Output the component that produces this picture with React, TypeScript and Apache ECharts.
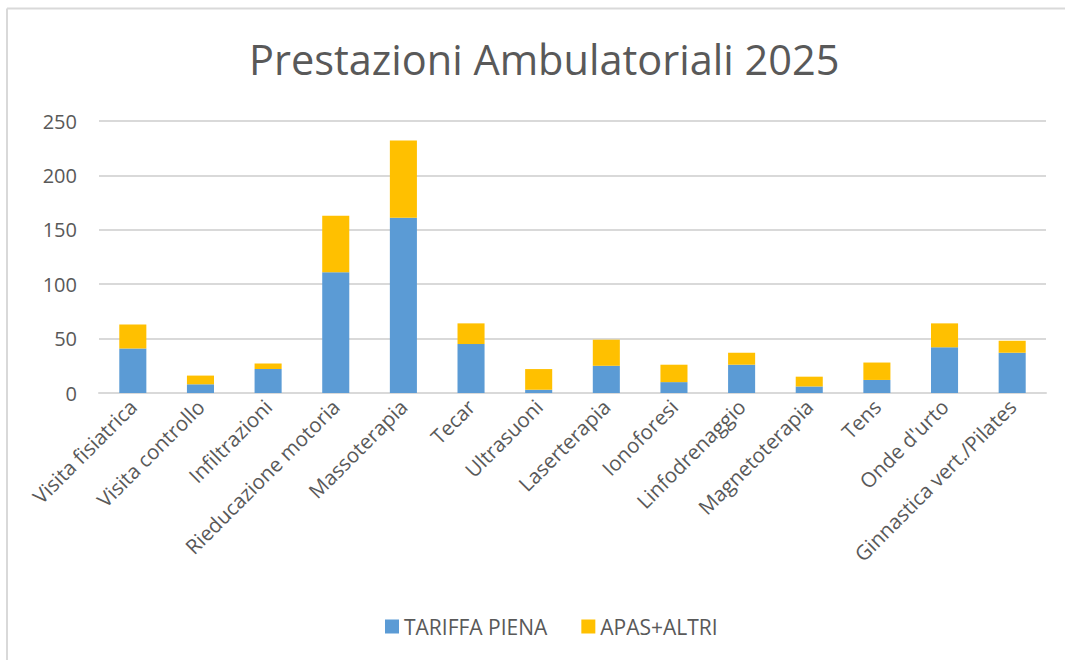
import React, { useEffect, useRef } from "react";
import * as echarts from "echarts";

const categories = [
  "Visita fisiatrica",
  "Visita controllo",
  "Infiltrazioni",
  "Rieducazione motoria",
  "Massoterapia",
  "Tecar",
  "Ultrasuoni",
  "Laserterapia",
  "Ionoforesi",
  "Linfodrenaggio",
  "Magnetoterapia",
  "Tens",
  "Onde d'urto",
  "Ginnastica vert./Pilates",
];
const tariffaPiena = [41, 8, 22, 111, 161, 45, 3, 25, 10, 26, 6, 12, 42, 37];
const apasAltri = [22, 8, 5, 52, 71, 19, 19, 24, 16, 11, 9, 16, 22, 11];
const yTicks = [0, 50, 100, 150, 200, 250];

const FONT = "'Open Sans', sans-serif";
const TEXT = "#595959";

export default function App() {
  const ref = useRef<HTMLDivElement>(null);
  useEffect(() => {
    if (!ref.current) return;
    const chart = echarts.init(ref.current, null, { renderer: "svg" });
    chart.setOption({
      animation: false,
      backgroundColor: "#ffffff",
      textStyle: { fontFamily: FONT },
      title: {
        text: "Prestazioni Ambulatoriali 2025",
        left: 244,
        top: 33,
        textStyle: { fontFamily: FONT, fontSize: 41.5, fontWeight: "normal", color: TEXT },
      },
      graphic: [
        { type: "line", shape: { x1: 7, y1: 8.5, x2: 1065, y2: 8.5 }, style: { stroke: "#d9d9d9", lineWidth: 2 } },
        { type: "line", shape: { x1: 7, y1: 8.5, x2: 7, y2: 660 }, style: { stroke: "#d9d9d9", lineWidth: 2 } },
      ],
      legend: {
        bottom: 18,
        left: 380,
        itemWidth: 14,
        itemHeight: 14,
        itemGap: 34,
        icon: "rect",
        textStyle: { fontFamily: FONT, fontSize: 21, color: TEXT },
        data: ["TARIFFA PIENA", "APAS+ALTRI"],
      },
      grid: { left: 99, right: 19, top: 121, bottom: 267, containLabel: false },
      xAxis: {
        type: "category",
        data: categories,
        axisTick: { show: false },
        axisLine: { lineStyle: { color: "#d9d9d9", width: 2 } },
        axisLabel: {
          rotate: 45,
          interval: 0,
          margin: 10,
          fontFamily: FONT,
          fontSize: 20.5,
          color: TEXT,
        },
      },
      yAxis: {
        type: "value",
        min: yTicks[0],
        max: yTicks[yTicks.length - 1],
        interval: 50,
        axisLine: { show: false },
        axisTick: { show: false },
        splitLine: { lineStyle: { color: "#d9d9d9", width: 2 } },
        axisLabel: { fontFamily: FONT, fontSize: 20, color: TEXT, margin: 22 },
      },
      series: [
        {
          name: "TARIFFA PIENA",
          type: "bar",
          stack: "total",
          data: tariffaPiena,
          barWidth: "40%",
          itemStyle: { color: "#5b9bd5" },
        },
        {
          name: "APAS+ALTRI",
          type: "bar",
          stack: "total",
          data: apasAltri,
          barWidth: "40%",
          itemStyle: { color: "#ffc000" },
        },
      ],
    });
    return () => chart.dispose();
  }, []);
  return (
    <div
      ref={ref}
      style={{ position: "fixed", left: 0, top: 0, width: 1065, height: 660 }}
    />
  );
}
